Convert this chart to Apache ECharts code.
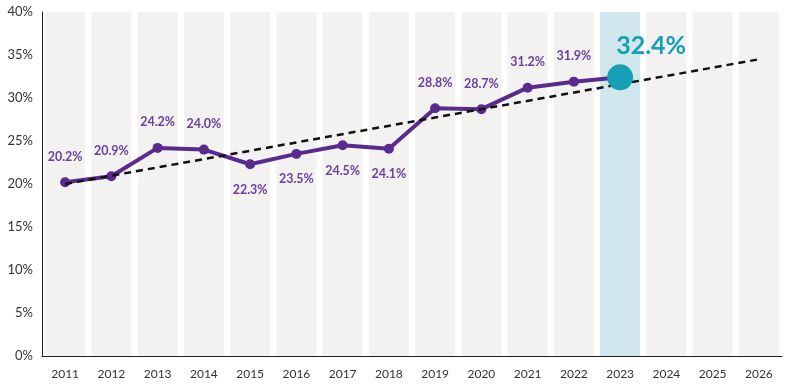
<!DOCTYPE html>
<html>
<head>
<meta charset="utf-8">
<script src="https://cdn.jsdelivr.net/npm/echarts@6/dist/echarts.min.js"></script>
<style>html,body{margin:0;padding:0;background:#fff;}#c{width:791px;height:392px;}</style>
</head>
<body>
<div id="c"></div>
<script>
// ---- data ----
const years = ['2011','2012','2013','2014','2015','2016','2017','2018','2019','2020','2021','2022','2023','2024','2025','2026'];
const shares = [20.2, 20.9, 24.2, 24.0, 22.3, 23.5, 24.5, 24.1, 28.8, 28.7, 31.2, 31.9, 32.4];
const trendStart = 20.0;   // 2011
const trendEnd = 34.5;     // 2026
const highlightYear = '2023';
const yTicks = [0, 5, 10, 15, 20, 25, 30, 35, 40];

// ---- styling / layout ----
const FONT = 'Lato, "Open Sans", sans-serif';
const PURPLE = '#5a2a8e';
const LABEL_PURPLE = '#6b3fa0';
const CYAN = '#15a0b5';
const belowIdx = new Set([4,5,6,7]);
const hiIdx = years.indexOf(highlightYear);
const yMax = yTicks[yTicks.length-1];

const bandData = years.map((y,i)=>({
  value: yMax,
  itemStyle: {color: i===hiIdx ? '#cfe6ec' : '#f3f2f0'}
}));

const lineData = shares.map((v,i)=>{
  if (i===hiIdx) return {value: v, symbolSize: 0, label:{show:false}};
  return {value: v, label:{position: belowIdx.has(i)?'bottom':'top', distance: 14}};
});

const trendData = years.map((y,i)=> i===0 ? trendStart : (i===years.length-1 ? trendEnd : null));
const hiData = years.map((y,i)=> i===hiIdx ? shares[hiIdx] : null);

const chart = echarts.init(document.getElementById('c'), null, {renderer:'canvas'});
chart.setOption({
  animation: false,
  backgroundColor: '#ffffff',
  grid: {left: 42, right: 9, top: 12, bottom: 36, containLabel: false},
  xAxis: {
    type: 'category',
    data: years,
    boundaryGap: true,
    axisLine: {show: true, lineStyle: {color: '#222', width: 1}},
    axisTick: {show: false},
    axisLabel: {color: '#333', fontFamily: FONT, fontSize: 12, margin: 12}
  },
  yAxis: {
    type: 'value',
    min: yTicks[0], max: yMax, interval: yTicks[1]-yTicks[0],
    axisLine: {show: true, lineStyle: {color: '#222', width: 1}},
    axisTick: {show: false},
    splitLine: {show: false},
    axisLabel: {color: '#333', fontFamily: FONT, fontSize: 13, margin: 9, formatter: '{value}%'}
  },
  series: [
    {
      type: 'bar',
      data: bandData,
      barWidth: 40,
      silent: true,
      z: 1
    },
    {
      type: 'line',
      data: lineData,
      symbol: 'circle',
      symbolSize: 10,
      lineStyle: {color: PURPLE, width: 4},
      itemStyle: {color: PURPLE},
      label: {
        show: true, color: LABEL_PURPLE, fontFamily: FONT, fontSize: 12.5, fontWeight: 'bold',
        formatter: p => p.value.toFixed(1) + '%'
      },
      z: 3
    },
    {
      type: 'line',
      data: trendData,
      connectNulls: true,
      symbol: 'none',
      lineStyle: {color: '#111', width: 2.5, type: [7, 5]},
      z: 4
    },
    {
      type: 'scatter',
      data: hiData,
      symbol: 'circle',
      symbolSize: 26,
      itemStyle: {color: CYAN, opacity: 1},
      label: {
        show: true, position: 'top', distance: 6, offset: [31, 0],
        color: CYAN, fontFamily: FONT, fontSize: 25, fontWeight: 'bold',
        formatter: p => p.value.toFixed(1) + '%'
      },
      z: 10
    }
  ]
});
</script>
</body>
</html>
